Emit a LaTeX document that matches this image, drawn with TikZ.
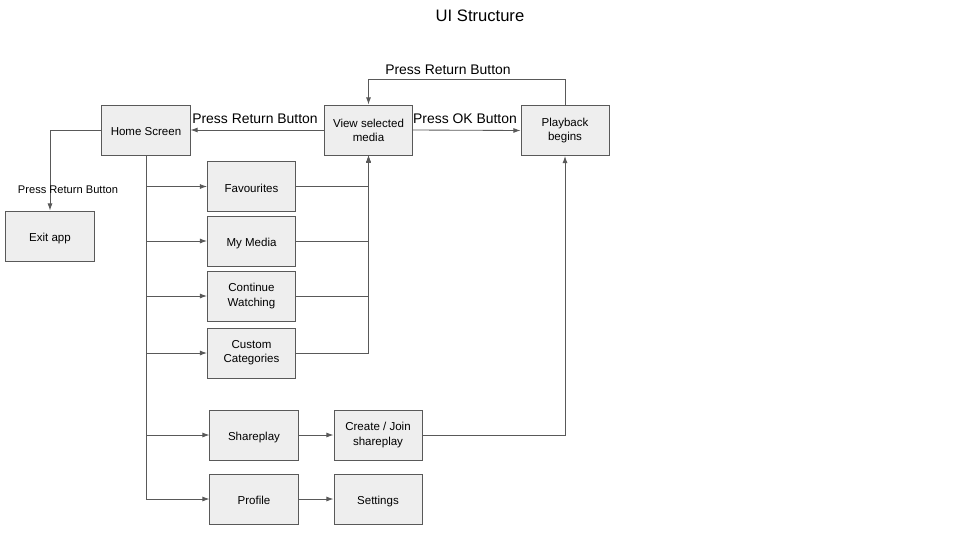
\documentclass[tikz,border=0pt]{standalone}
\usepackage{fontspec}
\setmainfont{Liberation Sans}
\usetikzlibrary{arrows.meta,positioning}
\definecolor{boxfill}{HTML}{EEEEEE}
\definecolor{linegray}{HTML}{595959}
\begin{document}
\begin{tikzpicture}[x=0.025cm,y=-0.025cm,
    screen/.style={draw=linegray,fill=boxfill,line width=0.7pt,minimum width=2.2cm,minimum height=1.25cm,align=center,font=\fontsize{8.2}{10}\selectfont},
    oneline/.style={screen,text height=1.0em,text depth=0.15em},
    link/.style={draw=linegray,line width=0.6pt,-{Latex[length=5pt,width=3.5pt]}},
    caption/.style={font=\fontsize{9.9}{12}\selectfont,inner sep=1pt}]
                \useasboundingbox (0,0) rectangle (960,540);
                \node [font=\fontsize{11.8}{14}\selectfont] (title) at (480,16) {UI Structure};
                % top row
                \node [oneline] (home) at (146,130) {Home Screen};
                \node [screen] (view) at (368.5,130) {View selected\\media};
                \node [screen] (play) at (565,130.5) {Playback\\begins};
                \node [oneline] (exit) at (50,236) {Exit app};
                % menu entries
                \node [oneline] (fav) at (251.5,186.5) {Favourites};
                \node [oneline] (mymedia) at (251.5,241) {My Media};
                \node [screen] (cont) at (251.5,296) {Continue\\Watching};
                \node [screen] (custom) at (251.5,353) {Custom\\Categories};
                \node [oneline] (share) at (254,435) {Shareplay};
                \node [screen] (create) at (378,435) {Create / Join\\shareplay};
                \node [oneline] (profile) at (254,499) {Profile};
                \node [oneline] (settings) at (378,499) {Settings};
                % connectors
                \draw [link] (view.west) -- (home.east);
                \draw [link] (view.east) -- (play.west);
                \draw [link] (play.north) -- ++(0,-26) -| (view.north);
                \draw [link] (home.west) -| (exit.north);
                \foreach \n in {fav,mymedia,cont,custom,share,profile}
                    \draw [link] (home.south) |- (\n.west);
                \foreach \n in {fav,mymedia,cont,custom}
                    \draw [link] (\n.east) -| (view.south);
                \draw [link] (share) -- (create);
                \draw [link] (profile) -- (settings);
                \draw [link] (create.east) -| (play.south);
                % labels
                \node [caption] (backlabel) at (255,119) {Press Return Button};
                \node [caption] (oklabel) at (465,119) {Press OK Button};
                \node [caption] (toplabel) at (448,70) {Press Return Button};
                \node [font=\fontsize{7.9}{10}\selectfont,inner sep=1pt] (exitlabel) at (68,190) {Press Return Button};
            \end{tikzpicture}
\end{document}
